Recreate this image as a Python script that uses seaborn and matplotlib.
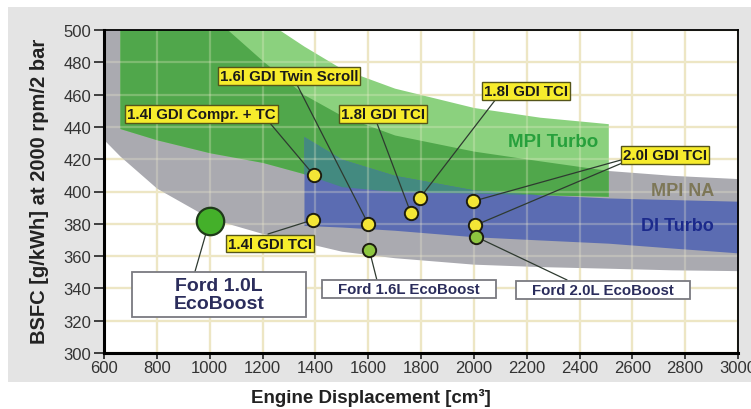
import numpy as np
import pandas as pd
import matplotlib
matplotlib.use("Agg")
import matplotlib.pyplot as plt
import seaborn as sns
from matplotlib.patches import Rectangle

# ---------------- data ----------------
band_x = [600, 660, 800, 1000, 1200, 1357, 1500, 1700, 2000, 2250, 2509, 2750, 3000]
# MPI NA (gray) band
mpi_na_lo = [432, 422, 402, 383.5, 374, 368.5, 363, 359, 355, 353.5, 352.5, 351.5, 351]
mpi_na_hi = [512, 512, 512, 510, 481, 460, 447, 435, 425, 419, 413, 410, 408]
# MPI Turbo (green) band, x from 660 to 2509
turbo_x = [660, 800, 1000, 1200, 1357, 1500, 1700, 2000, 2250, 2509]
turbo_lo = [439, 432, 424, 418, 411, 403, 400, 399, 398, 397]
turbo_hi = [512, 512, 512, 507, 490, 476, 464, 452, 446, 442]
# DI Turbo (blue) band, x from 1357 to 3000
di_x = [1357, 1500, 1700, 2000, 2250, 2509, 2750, 3000]
di_lo = [379, 378, 376, 372, 370, 368, 365, 362]
di_hi = [434, 420, 410, 401, 398, 396, 395, 394]

ford10_x = [1000]
ford10_y = [382]
gdi_x = [1395, 1392, 1600, 1762, 1796, 1998, 2004]
gdi_y = [410, 382.5, 380, 386.5, 396, 394, 379]
eco_x = [1604, 2008]
eco_y = [364, 372]

label_text = ["1.6l GDI Twin Scroll", "1.4l GDI Compr. + TC", "1.8l GDI TCI",
              "1.8l GDI TCI", "2.0l GDI TCI", "1.4l GDI TCI"]
label_x = [1300, 969, 1656, 2197, 2724, 1228]
label_y = [471.5, 448, 448, 462.5, 422.6, 367.8]
# connectors: start (label side) -> end (point)
conn_x0 = [1331, 1228, 1633, 2084, 2557, 2561, 1221, 944, 1633, 2353]
conn_y0 = [466, 442.4, 442.4, 457.3, 419.5, 417.6, 373.7, 350.2, 345.2, 345.2]
conn_x1 = [1600, 1395, 1762, 1796, 1998, 2004, 1392, 1000, 1604, 2008]
conn_y1 = [380, 410, 386.5, 396, 394, 379, 382.5, 382, 364, 372]

ford_text = ["Ford 1.0L\nEcoBoost", "Ford 1.6L EcoBoost", "Ford 2.0L EcoBoost"]
ford_box_x0 = [706, 1425, 2160]
ford_box_x1 = [1365, 2084, 2818]
ford_box_y0 = [322.3, 334, 333.4]
ford_box_y1 = [350.2, 345.2, 344.6]

xticks = list(range(600, 3001, 200))
yticks = list(range(300, 501, 20))

# ---------------- style ----------------
sns.set_style("white")
plt.rcParams['font.family'] = ['Liberation Sans', 'DejaVu Sans']

fig = plt.figure(figsize=(7.51, 4.10), dpi=100, facecolor='white')
fig.add_artist(Rectangle((8/751, 27/410), 743/751, 375/410, transform=fig.transFigure,
                         facecolor='#e4e4e4', edgecolor='none', zorder=-1))
ax = fig.add_axes([104/751, 1-354/410, 634/751, 323/410])
ax.set_facecolor('white')

GRAY = '#aaaab0'
DKGREEN = '#50a74b'
LTGREEN = '#8bd17e'
BLUE = '#5b6cb2'
TEAL = '#438a80'

bx = np.array(band_x, float)
tx = np.array(turbo_x, float)
dx = np.array(di_x, float)

ax.fill_between(bx, mpi_na_lo, mpi_na_hi, color=GRAY, lw=0, zorder=1)
ax.fill_between(tx, turbo_lo, turbo_hi, color=LTGREEN, lw=0, zorder=1.1)
na_hi_on_t = np.interp(tx, bx, mpi_na_hi)
ax.fill_between(tx, turbo_lo, np.minimum(turbo_hi, na_hi_on_t), color=DKGREEN, lw=0, zorder=1.2)
ax.fill_between(dx, di_lo, di_hi, color=BLUE, lw=0, zorder=1.3)
ov_x = np.array([x for x in di_x if x <= 2509], float)
t_lo_ov = np.interp(ov_x, tx, turbo_lo)
d_hi_ov = np.interp(ov_x, dx, di_hi)
ax.fill_between(ov_x, t_lo_ov, d_hi_ov, where=d_hi_ov >= t_lo_ov, interpolate=True,
                color=TEAL, lw=0, zorder=1.4)

ax.set_axisbelow(True)
ax.grid(True, color='#ebe3bf', lw=1.6)
for xv in xticks[1:-1]:
    ax.axvline(xv, color='#f3efd2', alpha=0.28, lw=1.6, zorder=2)
for yv in yticks[1:-1]:
    ax.axhline(yv, color='#f3efd2', alpha=0.28, lw=1.6, zorder=2)

for x0, y0, x1, y1 in zip(conn_x0, conn_y0, conn_x1, conn_y1):
    ax.plot([x0, x1], [y0, y1], color='#2e3a30', lw=0.9, zorder=3)

sns.scatterplot(x=gdi_x, y=gdi_y, s=92, color='#f4e636', edgecolor='#1d1d10',
                linewidth=1.4, zorder=5, ax=ax)
sns.scatterplot(x=eco_x, y=eco_y, s=92, color='#8dc63f', edgecolor='#1d1d10',
                linewidth=1.4, zorder=6, ax=ax)
sns.scatterplot(x=ford10_x, y=ford10_y, s=390, color='#44b02a', edgecolor='#1f3a1a',
                linewidth=1.6, zorder=6, ax=ax)

for t, x, y in zip(label_text, label_x, label_y):
    ax.text(x, y, t, ha='center', va='center', fontsize=10.8, fontweight='bold',
            color='#1a1a1a', zorder=7,
            bbox=dict(boxstyle='square,pad=0.13', facecolor='#f7ec2c',
                      edgecolor='#55551a', lw=1.0))

for i, t in enumerate(ford_text):
    x0, x1 = ford_box_x0[i], ford_box_x1[i]
    y0, y1 = ford_box_y0[i], ford_box_y1[i]
    ax.add_patch(Rectangle((x0, y0), x1 - x0, y1 - y0, facecolor='white',
                           edgecolor='#7a7a80', lw=1.3, zorder=7))
    fs = 14 if i == 0 else 10.8
    ax.text((x0 + x1) / 2, (y0 + y1) / 2, t, ha='center', va='center', fontsize=fs,
            fontweight='bold', color='#2b2d5c', linespacing=1.1, zorder=8)

ax.text(2300, 431, 'MPI Turbo', ha='center', va='center', fontsize=13.5,
        fontweight='bold', color='#27a03c', zorder=4)
ax.text(2792, 400.6, 'MPI NA', ha='center', va='center', fontsize=13,
        fontweight='bold', color='#7d7757', zorder=4)
ax.text(2771, 379, 'DI Turbo', ha='center', va='center', fontsize=13,
        fontweight='bold', color='#1c2a8c', zorder=4)

ax.set_xlim(600, 3000)
ax.set_ylim(300, 500)
ax.set_xticks(xticks)
ax.set_yticks(yticks)
ax.tick_params(axis='y', direction='out', length=7, width=1.2, pad=2,
               labelsize=12, labelcolor='#333333', color='#222222', left=True)
ax.tick_params(axis='x', direction='out', length=4, width=1.2, pad=1,
               labelsize=12, labelcolor='#333333', color='#222222', bottom=True)
for side in ['left', 'bottom']:
    ax.spines[side].set_linewidth(2.2)
    ax.spines[side].set_color('black')
for side in ['top', 'right']:
    ax.spines[side].set_linewidth(1.3)
    ax.spines[side].set_color('black')
    ax.spines[side].set_visible(True)
for s in ax.spines.values():
    s.set_zorder(9)

fig.text(371/751, 1-398/410, 'Engine Displacement [cm³]', ha='center', va='center',
         fontsize=13.5, fontweight='bold', color='#222222')
fig.text(39.5/751, 1-191/410, 'BSFC [g/kWh] at 2000 rpm/2 bar', ha='center',
         va='center', rotation=90, fontsize=14.5, fontweight='bold', color='#222222')

fig.savefig('out.png', dpi=100, facecolor='white')
